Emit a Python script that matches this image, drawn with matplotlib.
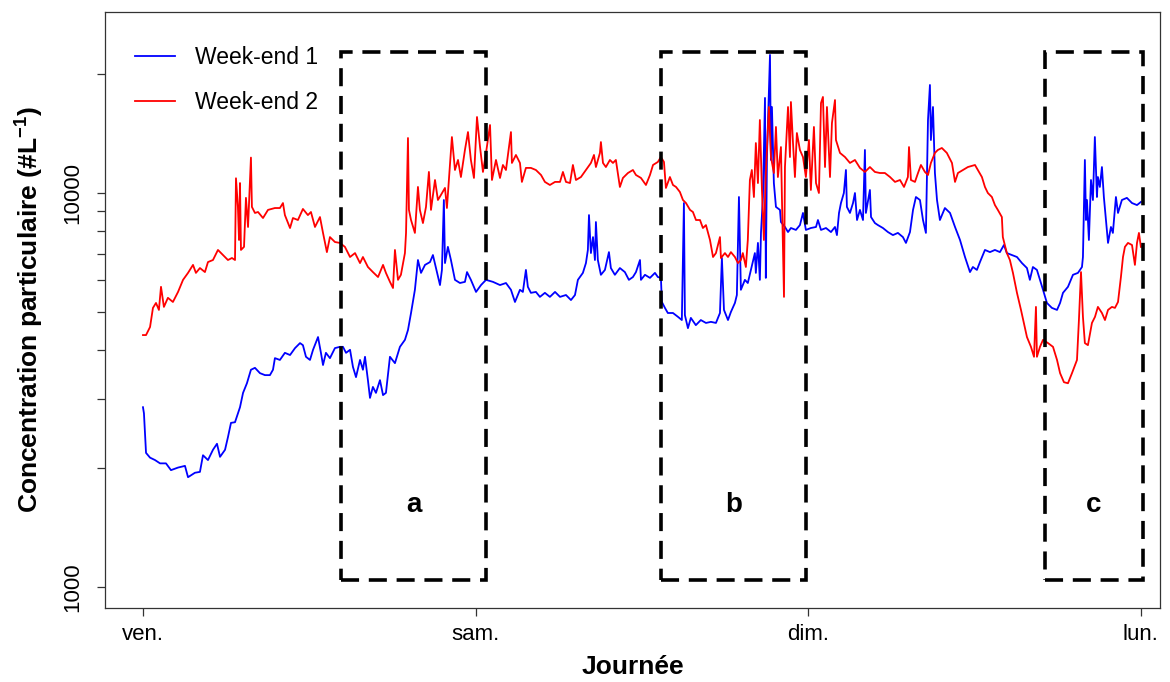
import matplotlib
matplotlib.use("Agg")
import matplotlib.pyplot as plt
from matplotlib.ticker import FixedLocator, NullFormatter, FixedFormatter
from matplotlib.patches import Rectangle

plt.rcParams['font.family'] = ['Liberation Sans', 'DejaVu Sans']
plt.rcParams['mathtext.fontset'] = 'custom'
plt.rcParams['mathtext.rm'] = 'Liberation Sans'
plt.rcParams['mathtext.bf'] = 'Liberation Sans:bold'
plt.rcParams['mathtext.default'] = 'bf'

# ---------------- data ----------------
day_ticks = [0, 24, 48, 72]            # hours since Friday 00:00
day_labels = ['ven.', 'sam.', 'dim.', 'lun.']
series_names = ['Week-end 1', 'Week-end 2']

# Week-end 1 (blue): time in hours, concentration in #/L
t1 = [0.0, 0.07, 0.22, 0.51, 0.87, 1.23, 1.66, 2.02, 2.53, 3.03,
      3.25, 3.75, 4.11, 4.33, 4.69, 5.05, 5.34, 5.56, 5.92, 6.13,
      6.35, 6.64, 7.00, 7.22, 7.50, 7.79, 8.08, 8.44, 8.80, 9.16,
      9.38, 9.52, 9.88, 10.24, 10.61, 10.97, 11.33, 11.54, 11.76, 12.05,
      12.27, 12.63, 12.84, 12.99, 13.20, 13.49, 13.85, 14.21, 14.43, 14.65,
      14.94, 15.15, 15.37, 15.66, 15.87, 16.02, 16.23, 16.38, 16.59, 16.81,
      17.10, 17.32, 17.53, 17.82, 18.18, 18.54, 18.90, 19.12, 19.34, 19.62,
      19.84, 20.06, 20.35, 20.71, 20.92, 21.14, 21.43, 21.57, 21.71, 21.79,
      22.00, 22.22, 22.51, 22.87, 23.23, 23.38, 23.66, 24.03, 24.39, 24.75,
      25.25, 25.76, 26.19, 26.55, 26.84, 27.20, 27.41, 27.63, 27.77, 27.99,
      28.35, 28.64, 29.00, 29.36, 29.73, 30.09, 30.52, 30.88, 31.17, 31.38,
      31.74, 31.96, 32.10, 32.18, 32.32, 32.47, 32.61, 32.68, 32.82, 33.04,
      33.33, 33.62, 33.76, 34.05, 34.41, 34.77, 35.06, 35.35, 35.57, 35.86,
      35.93, 36.22, 36.58, 36.94, 37.15, 37.37, 37.44, 37.66, 37.87, 38.24,
      38.60, 38.88, 39.03, 39.10, 39.32, 39.53, 39.89, 40.25, 40.62, 40.98,
      41.34, 41.63, 41.77, 41.92, 42.21, 42.42, 42.71, 42.85, 43.00, 43.14,
      43.43, 43.64, 43.86, 44.15, 44.22, 44.37, 44.51, 44.59, 44.73, 44.88,
      44.94, 45.02, 45.24, 45.31, 45.38, 45.52, 45.67, 45.96, 46.03, 46.32,
      46.54, 46.75, 47.11, 47.40, 47.62, 47.83, 48.19, 48.56, 48.70, 48.92,
      49.28, 49.64, 49.93, 50.07, 50.22, 50.36, 50.57, 50.72, 50.79, 51.01,
      51.23, 51.37, 51.52, 51.73, 51.95, 52.09, 52.16, 52.45, 52.53, 52.81,
      53.03, 53.39, 53.75, 54.11, 54.47, 54.83, 55.05, 55.34, 55.56, 55.77,
      56.06, 56.28, 56.49, 56.64, 56.78, 56.85, 57.00, 57.14, 57.29, 57.50,
      57.86, 58.23, 58.59, 58.95, 59.31, 59.67, 59.88, 60.17, 60.39, 60.75,
      61.11, 61.47, 61.83, 62.12, 62.33, 62.70, 63.06, 63.42, 63.78, 63.99,
      64.21, 64.50, 64.72, 64.94, 65.22, 65.58, 65.95, 66.17, 66.38, 66.74,
      67.10, 67.46, 67.75, 67.82, 67.96, 68.04, 68.11, 68.25, 68.40, 68.54,
      68.61, 68.68, 68.83, 68.90, 69.04, 69.19, 69.33, 69.48, 69.63, 69.84,
      69.98, 70.20, 70.35, 70.63, 70.99, 71.36, 71.72, 72.00]
c1 = [2860, 2760, 2190, 2130, 2100, 2060, 2060, 1980, 2010, 2030,
      1900, 1950, 1960, 2160, 2100, 2230, 2310, 2140, 2230, 2400,
      2610, 2620, 2860, 3110, 3290, 3560, 3600, 3490, 3450, 3450,
      3560, 3810, 3770, 3930, 3880, 4040, 4160, 4110, 3840, 3770,
      4000, 4310, 3930, 3660, 3930, 3810, 4040, 4070, 4070, 3930,
      4000, 3620, 3410, 3770, 3560, 3840, 3350, 3020, 3220, 3110,
      3350, 3070, 3110, 3840, 3700, 4070, 4240, 4490, 4960, 5680,
      6760, 6270, 6570, 6680, 6960, 6450, 5840, 6380, 9600, 6640,
      7300, 6760, 6020, 5910, 5950, 6300, 6020, 5610, 5840, 6020,
      5950, 5840, 5910, 5680, 5290, 5680, 5610, 6380, 5780, 5580,
      5610, 5450, 5580, 5450, 5610, 5450, 5510, 5350, 5510, 6020,
      6270, 6640, 7170, 8790, 7040, 7730, 6760, 8440, 6760, 6200,
      6380, 7080, 6450, 6200, 6450, 6300, 6020, 6120, 6300, 6760,
      6020, 6200, 6090, 6270, 6120, 6090, 5290, 5110, 4960, 4960,
      4850, 4760, 9430, 4900, 4540, 4820, 4620, 4760, 4680, 4710,
      4680, 4960, 6840, 5050, 4760, 4990, 5260, 5510, 9770, 5680,
      6020, 5910, 6380, 7040, 6270, 7470, 6020, 7920, 9770, 17430,
      6090, 12340, 22410, 12130, 16530, 10600, 9220, 9060, 8440, 8200,
      7960, 8150, 8060, 8290, 8900, 8060, 8150, 8200, 8540, 8060,
      8150, 7960, 8200, 7820, 8900, 9430, 10000, 11440, 9220, 8900,
      9430, 10000, 8540, 9060, 8540, 12860, 8900, 10180, 8690, 8390,
      8290, 8150, 7960, 7820, 7920, 7730, 7470, 7960, 9060, 9770,
      9600, 8540, 7920, 15320, 18800, 13630, 16530, 11240, 9600, 8540,
      9160, 8900, 8200, 7600, 6880, 6300, 6490, 6380, 6680, 7170,
      7080, 7170, 7080, 7380, 7040, 6960, 6880, 6640, 6450, 6020,
      6490, 6380, 6020, 5680, 5260, 5110, 5050, 5260, 5580, 5780,
      6200, 6270, 6490, 6880, 12130, 8540, 9600, 7600, 10790, 9600,
      11440, 13870, 9770, 10980, 10360, 11640, 9770, 8540, 7470, 8200,
      7920, 9770, 8900, 9600, 9720, 9430, 9320, 9490]

# Week-end 2 (red)
t2 = [0.0, 0.22, 0.51, 0.72, 0.94, 1.15, 1.30, 1.51, 1.80, 2.16,
      2.53, 2.89, 3.25, 3.61, 3.82, 4.11, 4.47, 4.69, 5.05, 5.41,
      5.77, 6.13, 6.42, 6.64, 6.71, 6.85, 6.93, 7.00, 7.07, 7.29,
      7.43, 7.58, 7.79, 7.86, 8.08, 8.30, 8.66, 9.02, 9.52, 9.88,
      10.10, 10.24, 10.61, 10.82, 11.18, 11.54, 11.90, 12.12, 12.41, 12.77,
      12.99, 13.27, 13.49, 13.85, 14.21, 14.57, 14.94, 15.30, 15.66, 15.87,
      16.23, 16.59, 16.96, 17.32, 17.53, 17.82, 18.04, 18.18, 18.40, 18.61,
      18.90, 18.98, 19.12, 19.19, 19.34, 19.62, 19.84, 19.98, 20.20, 20.42,
      20.63, 20.78, 21.07, 21.28, 21.50, 21.79, 21.93, 22.15, 22.29, 22.51,
      22.73, 22.94, 23.23, 23.45, 23.66, 23.88, 24.10, 24.32, 24.53, 24.75,
      25.04, 25.18, 25.47, 25.76, 25.97, 26.19, 26.55, 26.62, 26.91, 27.20,
      27.34, 27.63, 27.99, 28.35, 28.72, 29.00, 29.36, 29.73, 30.09, 30.30,
      30.52, 30.81, 31.02, 31.24, 31.60, 31.96, 32.32, 32.54, 32.68, 32.97,
      33.04, 33.19, 33.40, 33.69, 33.91, 34.12, 34.41, 34.63, 34.99, 35.35,
      35.57, 35.93, 36.29, 36.58, 36.80, 37.15, 37.37, 37.59, 37.73, 38.02,
      38.24, 38.46, 38.74, 38.96, 39.18, 39.47, 39.68, 39.90, 40.19, 40.40,
      40.62, 40.91, 41.13, 41.34, 41.63, 41.70, 41.99, 42.21, 42.42, 42.71,
      42.93, 43.14, 43.28, 43.50, 43.64, 43.79, 43.93, 44.08, 44.22, 44.37,
      44.51, 44.66, 44.80, 44.94, 45.16, 45.31, 45.52, 45.67, 45.81, 46.03,
      46.10, 46.25, 46.32, 46.54, 46.68, 46.75, 46.90, 47.04, 47.18, 47.40,
      47.62, 47.83, 48.05, 48.19, 48.41, 48.56, 48.77, 48.92, 49.06, 49.21,
      49.35, 49.57, 49.71, 49.93, 50.00, 50.29, 50.65, 51.01, 51.37, 51.73,
      52.09, 52.45, 52.81, 53.17, 53.53, 53.90, 54.26, 54.62, 54.91, 55.19,
      55.27, 55.41, 55.70, 55.92, 56.13, 56.42, 56.64, 56.85, 57.14, 57.35,
      57.64, 58.00, 58.37, 58.59, 58.80, 59.16, 59.52, 60.03, 60.24, 60.53,
      60.75, 60.96, 61.25, 61.47, 61.68, 61.97, 62.04, 62.33, 62.55, 62.77,
      63.06, 63.35, 63.56, 63.78, 64.07, 64.29, 64.43, 64.50, 64.72, 64.94,
      65.30, 65.66, 65.95, 66.17, 66.45, 66.74, 67.03, 67.39, 67.53, 67.68,
      67.82, 67.96, 68.18, 68.47, 68.69, 68.90, 69.19, 69.41, 69.63, 69.91,
      70.13, 70.35, 70.56, 70.71, 70.85, 71.07, 71.36, 71.57, 71.72, 71.86,
      72.00]
c2 = [4360, 4360, 4570, 5110, 5260, 5050, 5780, 5140, 5420, 5290,
      5610, 6020, 6270, 6570, 6270, 6450, 6300, 6680, 6760, 7170,
      6960, 6760, 6840, 6760, 10900, 9220, 7600, 10600, 7170, 7300,
      9720, 8200, 12300, 9220, 8900, 8950, 8640, 9060, 9160, 9160,
      9430, 8790, 8150, 8640, 8540, 9110, 8790, 8950, 8200, 8690,
      7920, 7080, 7730, 7510, 7470, 7300, 6880, 7040, 6640, 6880,
      6490, 6300, 6120, 6570, 6270, 5950, 5740, 7170, 6020, 6200,
      7040, 7920, 13790, 9060, 8540, 7920, 10360, 9060, 8390, 9220,
      11310, 9060, 10790, 9600, 9890, 10300, 9160, 11780, 13870, 11440,
      12130, 10980, 12860, 14280, 12130, 10920, 15590, 13080, 11310, 12640,
      14880, 10790, 12130, 10920, 11780, 11440, 14280, 11920, 12490, 11920,
      10670, 11580, 11580, 11440, 11110, 10670, 10480, 10670, 10670, 11310,
      10670, 10600, 11780, 10790, 10980, 11440, 11920, 12490, 11640, 12640,
      13470, 11920, 11640, 12130, 11920, 12130, 10360, 10920, 11240, 11440,
      11110, 10920, 10480, 11110, 11780, 11990, 12340, 11990, 10300, 10980,
      10480, 10360, 10060, 9600, 9430, 9060, 8950, 8540, 8540, 8150,
      8290, 7600, 6880, 7040, 7730, 6840, 7040, 6880, 7080, 6880,
      6640, 6760, 7040, 6490, 7600, 10790, 11440, 9770, 13390, 10600,
      15320, 10180, 7600, 11240, 16530, 12340, 11240, 14710, 10980, 13080,
      9770, 5450, 11640, 16530, 12340, 17020, 13390, 10980, 14200, 12860,
      12340, 10980, 13630, 10180, 14710, 10600, 10000, 16920, 17530, 11640,
      16530, 10980, 15050, 17220, 13630, 12640, 12340, 11920, 12130, 11580,
      11310, 11640, 11310, 11240, 11240, 10980, 10670, 10790, 10360, 10980,
      13080, 10790, 10670, 11240, 11780, 11310, 11110, 11920, 12640, 12860,
      13010, 12640, 11920, 10670, 11240, 11440, 11640, 11780, 11440, 10980,
      10360, 10000, 9770, 9320, 9060, 8690, 7730, 7040, 6760, 6270,
      5580, 5050, 4680, 4310, 4070, 3840, 5140, 3840, 4070, 4240,
      4160, 4070, 3770, 3490, 3310, 3290, 3490, 3770, 4760, 6300,
      4850, 4160, 4110, 4680, 4850, 5140, 4960, 4760, 5050, 5140,
      5110, 5290, 6120, 6880, 7300, 7470, 7380, 6570, 7470, 7920,
      7300]

# highlighted periods (hours) and their labels
zone_labels = ['a', 'b', 'c']
zone_start = [14.3, 37.37, 65.08]
zone_end = [24.75, 47.84, 72.15]
zone_low = 1042
zone_high = 22800
zone_label_value = 1615

# ---------------- figure ----------------
W, H = 1170, 682
fig = plt.figure(figsize=(W / 100, H / 100), dpi=100)
ax = fig.add_axes([105 / W, 1 - 608 / H, 1055 / W, 596 / H])

ax.plot(t1, c1, color='#0000FF', lw=1.3, label=series_names[0])
ax.plot(t2, c2, color='#FF0000', lw=1.3, label=series_names[1])

for s, e, lab in zip(zone_start, zone_end, zone_labels):
    ax.add_patch(Rectangle((s, zone_low), e - s, zone_high - zone_low,
                           fill=False, edgecolor='black', lw=2.6,
                           linestyle=(0, (5, 2.7)), zorder=3))
    ax.text((s + e) / 2, zone_label_value, lab, ha='center', va='center',
            fontsize=20, fontweight='bold')

ax.set_yscale('log')
ax.set_xlim(-2.74, 73.38)
ax.set_ylim(884.7, 28800)

ax.xaxis.set_major_locator(FixedLocator(day_ticks))
ax.xaxis.set_major_formatter(FixedFormatter(day_labels))
ax.xaxis.set_minor_locator(FixedLocator([]))
ax.yaxis.set_major_locator(FixedLocator([1000, 10000]))
ax.yaxis.set_major_formatter(FixedFormatter(['1000', '10000']))
ax.yaxis.set_minor_locator(FixedLocator([2000, 3000, 4000, 5000, 6000, 7000,
                                         8000, 9000, 20000]))
ax.yaxis.set_minor_formatter(NullFormatter())
ax.tick_params(which='both', direction='out', length=5.5, width=0.9,
               color='#333333', labelsize=16)
ax.tick_params(axis='y', pad=10)
ax.tick_params(axis='x', pad=6)
for lbl in ax.get_yticklabels():
    lbl.set_rotation(90)
    lbl.set_va('center')

for sp in ax.spines.values():
    sp.set_linewidth(0.9)
    sp.set_color('#333333')

ax.set_xlabel('Journée', fontsize=19, fontweight='bold')
ax.set_ylabel(r'Concentration particulaire (#L$^{-1}$)', fontsize=19,
              fontweight='bold')
ax.xaxis.label.set_va('center')
ax.yaxis.label.set_va('center')
ax.xaxis.set_label_coords(0.5, (608 - 667) / 596)
ax.yaxis.set_label_coords((30 - 105) / 1055, 0.5)

ax.legend(loc='upper left', bbox_to_anchor=(0.0284, 0.943), frameon=False,
          fontsize=16.5, handlelength=1.75, handletextpad=0.85,
          labelspacing=0.95, borderpad=0, borderaxespad=0)

fig.savefig('out.png', dpi=100)
